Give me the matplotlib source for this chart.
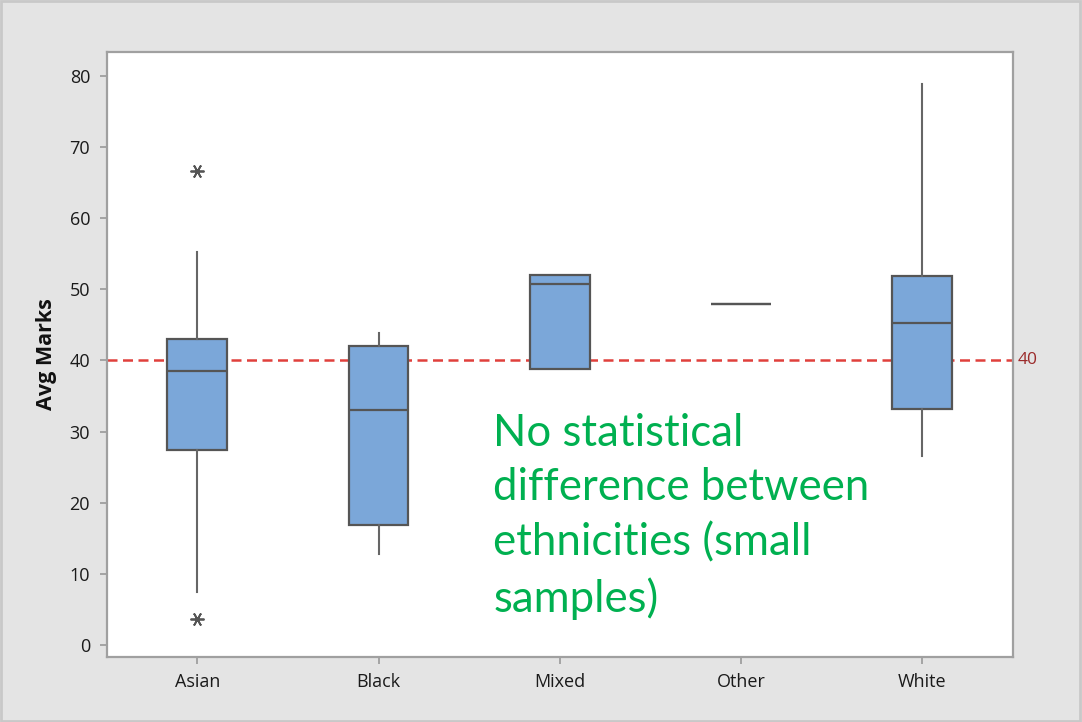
import matplotlib
matplotlib.use("Agg")
import matplotlib.pyplot as plt
from matplotlib.patches import Rectangle

categories = ["Asian", "Black", "Mixed", "Other", "White"]
q1 = [27.4, 16.8, 38.8, 48.0, 33.2]
median = [38.5, 33.0, 50.7, 48.0, 45.3]
q3 = [43.0, 42.0, 52.0, 48.0, 51.9]
whisker_low = [7.5, 12.8, 38.8, 48.0, 26.5]
whisker_high = [55.2, 43.9, 52.0, 48.0, 78.8]
outliers = [[66.6, 3.7], [], [], [], []]
reference_value = 40
yticks = [0, 10, 20, 30, 40, 50, 60, 70, 80]
note = "No statistical\ndifference between\nethnicities (small\nsamples)"

stats = []
for i, c in enumerate(categories):
    stats.append(dict(label=c, q1=q1[i], med=median[i], q3=q3[i],
                      whislo=whisker_low[i], whishi=whisker_high[i],
                      fliers=outliers[i]))

fig = plt.figure(figsize=(10.82, 7.22), dpi=100)
fig.patch.set_facecolor("#e4e4e4")
fig.patches.append(Rectangle((0.001, 0.001), 0.997, 0.997, transform=fig.transFigure,
                             fill=False, edgecolor="#c8c8c8", linewidth=2))
ax = fig.add_axes([0.0986, 0.0904, 0.8376, 0.838])
ax.set_facecolor("white")

ax.bxp(stats, positions=range(1, 6), widths=0.33, patch_artist=True,
       showcaps=False,
       boxprops=dict(facecolor="#7ba7d9", edgecolor="#555555", linewidth=1.6),
       medianprops=dict(color="#555555", linewidth=1.6),
       whiskerprops=dict(color="#666666", linewidth=1.5),
       flierprops=dict(marker=(6, 2, 90), markersize=10, markeredgewidth=1.3,
                       markeredgecolor="#555555", linestyle="none"),
       zorder=3)

ax.axhline(reference_value, color="#e0403c", linestyle=(0, (4, 2.2)), linewidth=1.8, zorder=2)
ax.text(1.005, reference_value, str(reference_value), transform=ax.get_yaxis_transform(),
        color="#9b2a2a", fontsize=12.5, va="center", ha="left", family="Open Sans")

ax.set_xlim(0.5, 5.5)
ax.set_ylim(-1.65, 83.4)
ax.set_yticks(yticks)
ax.set_xticks(range(1, 6))
ax.set_xticklabels(categories)
for lab in ax.get_xticklabels() + ax.get_yticklabels():
    lab.set_family("Open Sans")
    lab.set_fontsize(13)
    lab.set_color("#1a1a1a")
ax.tick_params(axis="both", length=5, width=1.2, color="#999999", pad=7)
for s in ax.spines.values():
    s.set_color("#a0a0a0")
    s.set_linewidth(1.6)
ax.set_ylabel("Avg Marks", fontsize=15.5, fontweight="bold", family="Open Sans",
              color="#111111", labelpad=9)

ax.text(0.4265, 0.403, note, transform=ax.transAxes, color="#00b050",
        fontsize=31.5, family="Lato", va="top", ha="left", linespacing=1.41)

fig.savefig("out.png", dpi=100, facecolor=fig.get_facecolor())
